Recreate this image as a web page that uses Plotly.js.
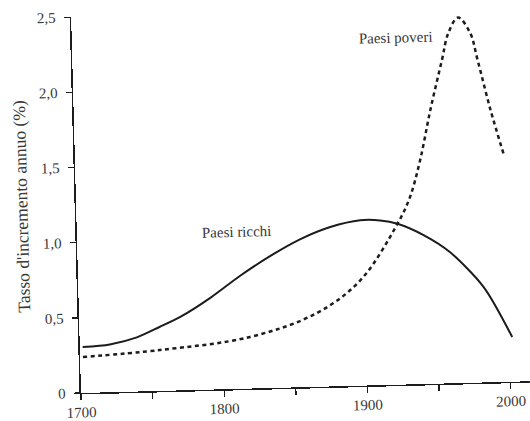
<!DOCTYPE html>
<html>
<head>
<meta charset="utf-8">
<script src="https://cdn.plot.ly/plotly-3.0.1.min.js"></script>
<style>
  html, body { margin: 0; padding: 0; background: #ffffff; overflow: hidden; }
  #chart { width: 530px; height: 421px; transform: rotate(-1.5deg); transform-origin: 81px 393px; }
</style>
</head>
<body>
<div id="chart"></div>
<script>
// Data
const richYears   = [1702, 1721, 1740, 1756, 1771, 1792, 1813, 1835, 1856, 1877, 1898, 1912, 1924, 1942, 1960, 1983, 2002];
const richValues  = [0.305, 0.318, 0.36, 0.425, 0.49, 0.61, 0.75, 0.88, 0.985, 1.06, 1.10, 1.095, 1.07, 0.99, 0.873, 0.634, 0.297];
const poorYears   = [1702, 1756, 1819, 1866, 1897, 1924, 1933, 1941, 1949, 1958, 1963, 1970, 1978, 1983, 1991, 1999.5];
const poorValues  = [0.239, 0.272, 0.343, 0.49, 0.70, 1.07, 1.24, 1.49, 1.82, 2.15, 2.33, 2.43, 2.33, 2.14, 1.81, 1.51];
const xTickVals   = [1700, 1750, 1800, 1850, 1900, 1950, 2000];
const xTickText   = ["1700", "", "1800", "", "1900", "", "2000"];
const yTickVals   = [0, 0.5, 1.0, 1.5, 2.0, 2.5];
const yTickText   = ["0", "0,5", "1,0", "1,5", "2,0", "2,5"];
const yTitle      = "Tasso d'incremento annuo (%)";
const labelRich   = {text: "Paesi ricchi", x: 1812, y: 1.043};
const labelPoor   = {text: "Paesi poveri", x: 1926, y: 2.305};

const ink = '#1c1c1c';
const txt = '#383838';
const serif = '"Times New Roman", "Liberation Serif", Times, serif';

const traces = [
  {x: richYears, y: richValues, mode: 'lines', type: 'scatter',
   line: {color: ink, width: 2, shape: 'spline', smoothing: 0.8}, hoverinfo: 'skip'},
  {x: poorYears, y: poorValues, mode: 'lines', type: 'scatter',
   line: {color: ink, width: 2.5, shape: 'spline', smoothing: 1.0, dash: '4px,3.5px'}, hoverinfo: 'skip'}
];

const layout = {
  width: 530, height: 421,
  margin: {l: 81, r: 0, t: 17, b: 28},
  paper_bgcolor: 'rgba(0,0,0,0)', plot_bgcolor: 'rgba(0,0,0,0)',
  showlegend: false,
  font: {family: serif, color: txt, size: 15},
  xaxis: {
    range: [1700, 2013.5], showgrid: false, zeroline: false,
    showline: true, linecolor: ink, linewidth: 1.5,
    tickmode: 'array', tickvals: xTickVals, ticktext: xTickText,
    ticks: 'outside', ticklen: 6, tickwidth: 1.3, tickcolor: ink,
    tickfont: {family: serif, size: 15, color: txt}, ticklabelstandoff: -1
  },
  yaxis: {
    range: [0, 2.5], showgrid: false, zeroline: false,
    showline: true, linecolor: ink, linewidth: 1.5,
    tickmode: 'array', tickvals: yTickVals, ticktext: yTickText,
    ticks: 'outside', ticklen: 6, tickwidth: 1.3, tickcolor: ink,
    tickfont: {family: serif, size: 15, color: txt}, ticklabelstandoff: 5,
    title: {text: yTitle, font: {family: serif, size: 17.5, color: txt}, standoff: 9}
  },
  annotations: [
    {text: labelRich.text, x: labelRich.x, y: labelRich.y, xref: 'x', yref: 'y',
     showarrow: false, font: {family: serif, size: 15, color: txt}},
    {text: labelPoor.text, x: labelPoor.x, y: labelPoor.y, xref: 'x', yref: 'y',
     showarrow: false, font: {family: serif, size: 15, color: txt}}
  ]
};

Plotly.newPlot('chart', traces, layout, {staticPlot: true, displayModeBar: false});
</script>
</body>
</html>
